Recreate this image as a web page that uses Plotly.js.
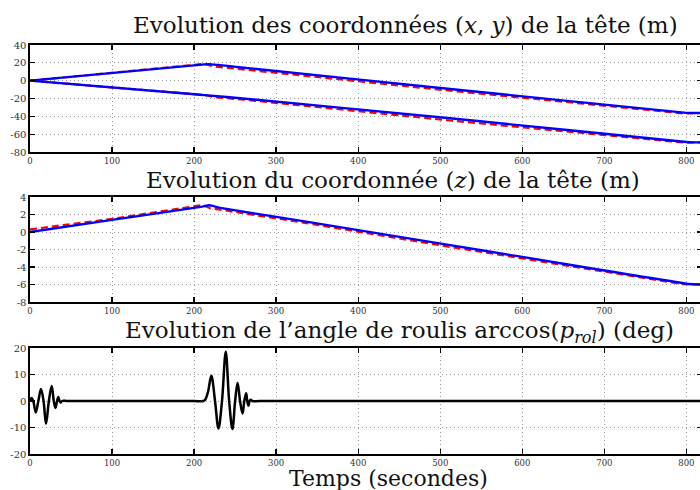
<!DOCTYPE html>
<html>
<head>
<meta charset="utf-8">
<script src="https://cdn.plot.ly/plotly-3.0.1.min.js"></script>
<style>
html,body{margin:0;padding:0;overflow:hidden;background:#fff;width:700px;height:490px;}
#chart{width:740px;height:490px;}
</style>
</head>
<body>
<div id="chart"></div>
<script>
// ---- Data ----
// Plot 1 : (x, y) coordinates of the head (m)
const tUpperBlue = [0, 213, 218, 266, 512, 800, 806, 819];
const upperBlue  = [0, 18.3, 18.5, 14.0, -9.3, -36.1, -36.2, -36.2];
const tUpperRed  = [0, 212, 225, 266, 512, 796, 806, 819];
const upperRed   = [0, 18.8, 15.9, 12.0, -11.2, -36.7, -36.3, -36.2];
const tLowerBlue = [0, 200, 213, 266, 512, 800, 806, 819];
const lowerBlue  = [0, -15.3, -16.2, -20.5, -42.2, -68.8, -69.2, -69.2];
const tLowerRed  = [0, 212, 225, 266, 512, 798, 806, 819];
const lowerRed   = [0, -16.0, -18.5, -21.7, -44.7, -69.5, -69.3, -69.2];

// Plot 2 : z coordinate of the head (m)
const tZBlue = [0, 100, 210, 218, 224, 232, 329, 512, 600, 700, 803, 819];
const zBlue  = [0, 1.38, 2.9, 3.05, 2.95, 2.75, 1.3, -1.5, -2.85, -4.4, -5.95, -6.0];
const tZRed  = [0, 100, 208, 213, 220, 232, 329, 512, 795, 805, 819];
const zRed   = [0.3, 1.5, 3.05, 3.0, 2.7, 2.55, 1.14, -1.7, -5.95, -6.0, -6.0];

// Plot 3 : roll angle arccos(p_rol) (deg)
const tRoll = [0, 2, 4, 7, 10.2, 13.4, 16.5, 19.5, 23, 26.4, 29, 31, 33, 34.5, 36, 37.5, 39, 45,
               100, 150, 200, 211, 213.5, 217, 221, 225.5, 229.7, 234, 238.6, 242.7, 246.7, 250,
               253, 256, 259, 261.2, 263.4, 264.8, 266.2, 267.6, 269, 271, 280, 400, 550, 700, 819];
const roll  = [0, 1.1, 0, -4.3, 0, 4.5, 0, -8.6, 0, 5.7, 0, -2.6, 0, 1.5, 0, -0.6, 0, 0,
               0, 0, 0, 0, 0.5, 3.5, 9.5, 0, -10.4, 0, 18.6, 0, -10.6, 0,
               6.9, 0, -4.7, 0, 2.9, 0, -1.8, 0, 0.5, 0, 0, 0, 0, 0, 0];

// Axis ticks
const xTicks = [0, 100, 200, 300, 400, 500, 600, 700, 800];
const xTickText = ['0', '100', '200', '300', '400', '500', '600', '700', '800'];
const y1Ticks = [-80, -60, -40, -20, 0, 20, 40];
const y1Text  = ['-80', '-60', '-40', '-20', '0', '20', '40'];
const y2Ticks = [-8, -6, -4, -2, 0, 2, 4];
const y2Text  = ['-8', '-6', '-4', '-2', '0', '2', '4'];
const y3Ticks = [-20, -10, 0, 10, 20];
const y3Text  = ['-20', '-10', '0', '10', '20'];

// ---- Figure ----
const W = 740, H = 490, ML = 30, MR = 38;
const SERIF = '"DejaVu Serif", "Liberation Serif", serif';
const blue = '#0000ff', red = '#ff0000';

function dom(top, bottom) { return [1 - bottom / H, 1 - top / H]; }
function px(x) { return (x - ML) / (W - ML - MR); }
function py(y) { return 1 - y / H; }

const traces = [
  {x: tUpperRed, y: upperRed, xaxis: 'x', yaxis: 'y', mode: 'lines', line: {color: red, width: 2.2, dash: '7px,4px'}},
  {x: tLowerRed, y: lowerRed, xaxis: 'x', yaxis: 'y', mode: 'lines', line: {color: red, width: 2.2, dash: '7px,4px'}},
  {x: tUpperBlue, y: upperBlue, xaxis: 'x', yaxis: 'y', mode: 'lines', line: {color: blue, width: 2.4, shape: 'spline', smoothing: 0.3}},
  {x: tLowerBlue, y: lowerBlue, xaxis: 'x', yaxis: 'y', mode: 'lines', line: {color: blue, width: 2.4, shape: 'spline', smoothing: 0.3}},
  {x: tZRed, y: zRed, xaxis: 'x2', yaxis: 'y2', mode: 'lines', line: {color: red, width: 2.2, dash: '7px,4px'}},
  {x: tZBlue, y: zBlue, xaxis: 'x2', yaxis: 'y2', mode: 'lines', line: {color: blue, width: 2.4, shape: 'spline', smoothing: 0.3}},
  {x: tRoll, y: roll, xaxis: 'x3', yaxis: 'y3', mode: 'lines', line: {color: '#000', width: 2.5, shape: 'spline', smoothing: 1}}
];

function xax(anchor) {
  return {
    anchor: anchor, domain: [0, 1], range: [0, 819],
    tickmode: 'array', tickvals: xTicks, ticktext: xTickText,
    ticks: 'inside', ticklen: 5, tickwidth: 1.3, tickcolor: '#000',
    showline: true, linecolor: '#000', linewidth: 1.6, mirror: 'allticks',
    showgrid: true, gridcolor: '#9a9a9a', griddash: '1px,3px', gridwidth: 1,
    zeroline: false,
    tickfont: {family: SERIF, size: 8.5, color: '#333'}
  };
}
function yax(anchor, domain, range, vals, text) {
  return {
    anchor: anchor, domain: domain, range: range,
    tickmode: 'array', tickvals: vals, ticktext: text,
    ticks: 'inside', ticklen: 5, tickwidth: 1.3, tickcolor: '#000',
    showline: true, linecolor: '#000', linewidth: 1.6, mirror: 'allticks',
    showgrid: true, gridcolor: '#9a9a9a', griddash: '1px,3px', gridwidth: 1,
    zeroline: false,
    tickfont: {family: SERIF, size: 10, color: '#333'}
  };
}

const titleFont = {family: SERIF, size: 23, color: '#111'};
const labelFont = {family: SERIF, size: 22, color: '#111'};
const layout = {
  width: W, height: H,
  margin: {l: ML, r: MR, t: 0, b: 0},
  paper_bgcolor: '#fff', plot_bgcolor: '#fff',
  showlegend: false,
  xaxis: xax('y'),
  yaxis: yax('x', dom(45, 152), [-80, 40], y1Ticks, y1Text),
  xaxis2: xax('y2'),
  yaxis2: yax('x2', dom(197, 302), [-8, 4], y2Ticks, y2Text),
  xaxis3: xax('y3'),
  yaxis3: yax('x3', dom(348, 454), [-20, 20], y3Ticks, y3Text),
  annotations: [
    {text: 'Evolution des coordonnées (<i>x</i>, <i>y</i>) de la tête (m)', xref: 'paper', yref: 'paper',
     x: px(405), y: py(40), xanchor: 'center', yanchor: 'bottom', showarrow: false, font: titleFont},
    {text: 'Evolution du coordonnée (<i>z</i>) de la tête (m)', xref: 'paper', yref: 'paper',
     x: px(393), y: py(195), xanchor: 'center', yanchor: 'bottom', showarrow: false, font: titleFont},
    {text: 'Evolution de l’angle de roulis arccos(<i>p</i><sub><i>rol</i></sub>) (deg)', xref: 'paper', yref: 'paper',
     x: px(399), y: py(349), xanchor: 'center', yanchor: 'bottom', showarrow: false, font: titleFont},
    {text: 'Temps (secondes)', xref: 'paper', yref: 'paper',
     x: px(388), y: py(493), xanchor: 'center', yanchor: 'bottom', showarrow: false, font: labelFont}
  ]
};

Plotly.newPlot('chart', traces, layout, {staticPlot: true, displayModeBar: false});
</script>
</body>
</html>
